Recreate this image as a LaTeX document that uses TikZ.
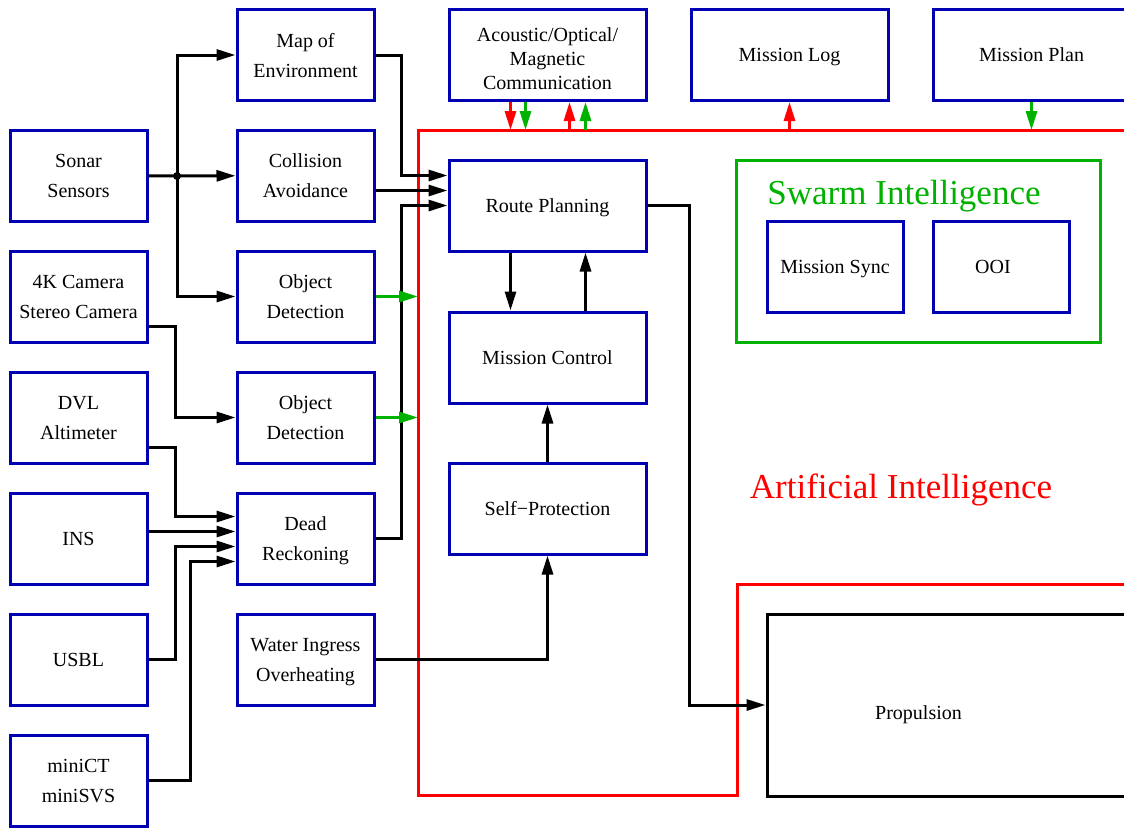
\documentclass[tikz,border=0pt]{standalone}
\usepackage{fontspec}
\setmainfont{Liberation Serif}
\usetikzlibrary{arrows.meta}
\definecolor{fblue}{RGB}{0,0,178}
\definecolor{fgreen}{RGB}{0,178,0}
\definecolor{fred}{RGB}{255,0,0}

\begin{document}
\begin{tikzpicture}[x=1pt,y=-1pt,
	font=\fontsize{20}{30}\selectfont,
	box/.style={draw=fblue, line width=3pt, minimum width=137pt, minimum height=91pt, align=center, inner sep=2pt, text depth=0pt},
	wbox/.style={box, minimum width=197pt},
	link/.style={line width=3pt, -{Triangle[length=19pt,width=11pt]}},
	glink/.style={link, color=fgreen},
	rlink/.style={link, color=fred},
	title/.style={font=\fontsize{35}{42}\selectfont, text depth=0pt}]
	\useasboundingbox (0,0) rectangle (1124,827);
	\clip (0,0) rectangle (1124,827);

	% artificial intelligence frame
	\coordinate (aiNW) at (418,130);
	\draw[fred, line width=3pt] (1130,130) -- (aiNW) -- (418,795) -- (737,795) -- (737,584) -- (1130,584);
	\node[title, text=fred] (ailbl) at (901,486) {Artificial Intelligence};

	% sensors
	\node[box] (sonar) at (78.5,175.5) {Sonar\\Sensors};
	\node[box] (cam) at (78.5,296.5) {4K Camera\\Stereo Camera};
	\node[box] (dvl) at (78.5,417.5) {DVL\\Altimeter};
	\node[box] (ins) at (78.5,538.5) {INS};
	\node[box] (usbl) at (78.5,659.5) {USBL};
	\node[box] (mini) at (78.5,780.5) {miniCT\\miniSVS};

	% processing
	\node[box] (map) at (305.5,55) {Map of\\Environment};
	\node[box] (coll) at (305.5,175.5) {Collision\\Avoidance};
	\node[box] (objA) at (305.5,296.5) {Object\\Detection};
	\node[box] (objB) at (305.5,417.5) {Object\\Detection};
	\node[box] (dead) at (305.5,538.5) {Dead\\Reckoning};
	\node[box] (water) at (305.5,659.5) {Water Ingress\\Overheating};

	% top row
	\node[wbox, label={[yshift=-4pt, align=center, text depth=0pt, font=\fontsize{20}{24}\selectfont]center:Acoustic/Optical/\\Magnetic\\Communication}] (comm) at (547.5,55) {};
	\node[wbox] (mlog) at (789.5,55) {Mission Log};
	\node[wbox] (plan) at (1031.5,55) {Mission Plan};

	% control
	\node[wbox] (route) at (547.5,205.5) {Route Planning};
	\node[wbox] (mctrl) at (547.5,357.5) {Mission Control};
	\node[wbox] (self) at (547.5,508.5) {Self−Protection};

	% swarm
	\node[draw=fgreen, line width=3pt, minimum width=364pt, minimum height=182pt] (swarm) at (918,251) {};
	\node[title, text=fgreen] (swarmlbl) at (904,192) {Swarm Intelligence};
	\node[box, minimum width=136pt] (sync) at (835,266.5) {Mission Sync};
	\node[box, minimum width=136pt, label={[xshift=-8pt, text depth=0pt]center:OOI}] (ooi) at (1001,266.5) {};

	\node[box, draw=black, minimum width=363pt, minimum height=182pt,
		label={[xshift=-30pt,yshift=-8pt,text depth=0pt]center:Propulsion}] (prop) at (948.5,705) {};

	% sensor links
	\coordinate (jn) at (177,176);
	\draw[link] (sonar) -- (jn) -- (coll);
	\draw[link] (jn) |- (map);
	\draw[link] (jn) |- (objA);
	\fill (jn) circle (4);
	\draw[link] ([yshift=-30]cam.east) -| ([xshift=-60]objB.west) -- (objB);
	\draw[link] ([yshift=-30]dvl.east) -| ([xshift=-60,yshift=22]dead.west) -- ([yshift=22]dead.west);
	\draw[link] ([yshift=7]ins.east) -- ([yshift=7]dead.west);
	\draw[link] (usbl) -| ([xshift=-60,yshift=-8]dead.west) -- ([yshift=-8]dead.west);
	\draw[link] (mini) -| ([xshift=-45,yshift=-23]dead.west) -- ([yshift=-23]dead.west);

	% into route planning
	\draw[link] (map) -| ([xshift=-46,yshift=30]route.west) -- ([yshift=30]route.west);
	\draw[link] ([yshift=-15]coll.east) -- ([yshift=15]route.west);
	\draw[link] (dead) -| ([xshift=-46]route.west) -- (route);
	\draw[glink] (objA) -- (objA -| aiNW);
	\draw[glink] (objB) -- (objB -| aiNW);

	% control loop
	\draw[link] ([xshift=-37]route.south) -- ([xshift=-37]mctrl.north);
	\draw[link] ([xshift=38]mctrl.north) -- ([xshift=38]route.south);
	\draw[link] (self) -- (mctrl);
	\draw[link] (water) -| (self);
	\draw[link] (route) -| ([xshift=-76]prop.west) -- (prop);

	% top links
	\draw[rlink] ([xshift=-37]comm.south) -- ([xshift=-37]comm.south |- aiNW);
	\draw[glink] ([xshift=-22]comm.south) -- ([xshift=-22]comm.south |- aiNW);
	\draw[rlink] ([xshift=22]comm.south |- aiNW) -- ([xshift=22]comm.south);
	\draw[glink] ([xshift=38]comm.south |- aiNW) -- ([xshift=38]comm.south);
	\draw[rlink] (mlog.south |- aiNW) -- (mlog);
	\draw[glink] (plan) -- (plan.south |- aiNW);
\end{tikzpicture}
\end{document}
